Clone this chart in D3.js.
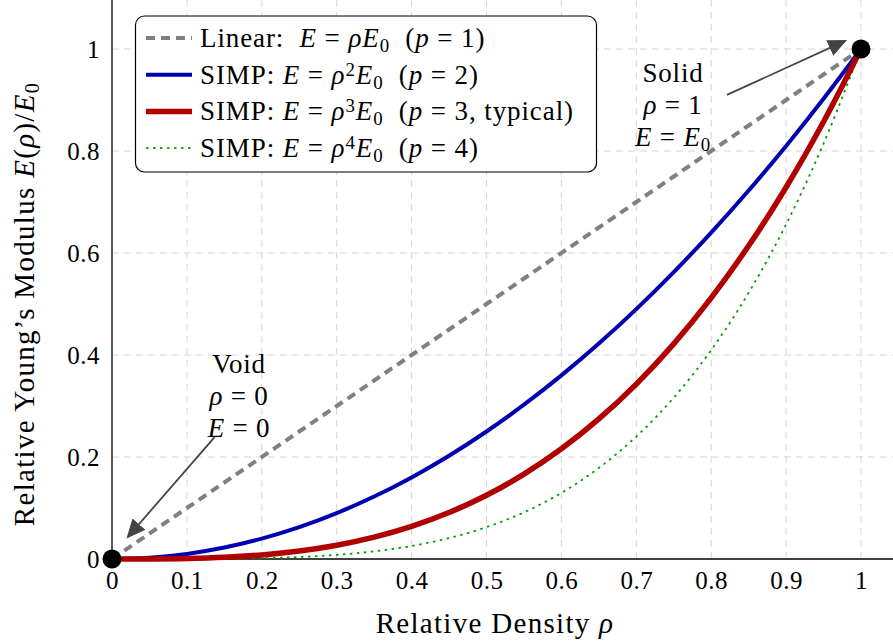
<!DOCTYPE html>
<html>
<head>
<meta charset="utf-8">
<script src="https://cdn.jsdelivr.net/npm/d3@7"></script>
<style>
  body { margin: 0; background: #fff; }
  svg { display: block; font-family: "Liberation Serif", "DejaVu Serif", serif; }
</style>
</head>
<body>
<script>
// values
var rho = [0, 0.05, 0.1, 0.15, 0.2, 0.25, 0.3, 0.35, 0.4, 0.45, 0.5, 0.55, 0.6, 0.65, 0.7, 0.75, 0.8, 0.85, 0.9, 0.95, 1];
var linearE = [0, 0.05, 0.1, 0.15, 0.2, 0.25, 0.3, 0.35, 0.4, 0.45, 0.5, 0.55, 0.6, 0.65, 0.7, 0.75, 0.8, 0.85, 0.9, 0.95, 1];
var simp2 = [0, 0.0025, 0.01, 0.0225, 0.04, 0.0625, 0.09, 0.1225, 0.16, 0.2025, 0.25, 0.3025, 0.36, 0.4225, 0.49, 0.5625, 0.64, 0.7225, 0.81, 0.9025, 1];
var simp3 = [0, 0.0001, 0.001, 0.0034, 0.008, 0.0156, 0.027, 0.0429, 0.064, 0.0911, 0.125, 0.1664, 0.216, 0.2746, 0.343, 0.4219, 0.512, 0.6141, 0.729, 0.8574, 1];
var simp4 = [0, 0, 0.0001, 0.0005, 0.0016, 0.0039, 0.0081, 0.015, 0.0256, 0.041, 0.0625, 0.0915, 0.1296, 0.1785, 0.2401, 0.3164, 0.4096, 0.522, 0.6561, 0.8145, 1];
var xTicks = [0, 0.1, 0.2, 0.3, 0.4, 0.5, 0.6, 0.7, 0.8, 0.9, 1];
var yTicks = [0, 0.2, 0.4, 0.6, 0.8, 1];
var endPoints = [[0, 0], [1, 1]];

var W = 893, H = 644;
var svg = d3.select("body").append("svg").attr("width", W).attr("height", H);

var x = d3.scaleLinear().domain([0, 1]).range([112, 861]);
var y = d3.scaleLinear().domain([0, 1]).range([559, 49]);
var xMax = x.invert(W), yMax = y.invert(0);

// grid
var grid = svg.append("g").attr("stroke", "#d6d6d6").attr("stroke-width", 1).attr("stroke-dasharray", "7,5");
grid.selectAll(".gx").data(xTicks.slice(1)).enter().append("line")
    .attr("x1", function(d){ return x(d); }).attr("x2", function(d){ return x(d); })
    .attr("y1", y(0)).attr("y2", y(yMax));
grid.selectAll(".gy").data(yTicks.slice(1)).enter().append("line")
    .attr("y1", function(d){ return y(d); }).attr("y2", function(d){ return y(d); })
    .attr("x1", x(0)).attr("x2", x(xMax));

// axes
var fmt = function(d){ return d === 0 || d === 1 ? d3.format("d")(d) : d3.format(".1f")(d); };
var xAxis = svg.append("g").attr("transform", "translate(0," + y(0) + ")")
    .call(d3.axisBottom(x).tickValues(xTicks).tickSize(0).tickPadding(12).tickFormat(fmt));
var yAxis = svg.append("g").attr("transform", "translate(" + x(0) + ",0)")
    .call(d3.axisLeft(y).tickValues(yTicks).tickSize(0).tickPadding(12).tickFormat(fmt));
[xAxis, yAxis].forEach(function(a){
    a.select(".domain").remove();
    a.attr("font-family", null).attr("font-size", null);
    a.selectAll("text").attr("font-size", 25).attr("letter-spacing", 0.5).attr("fill", "#000");
});
svg.append("line").attr("x1", x(0)).attr("x2", x(xMax)).attr("y1", y(0)).attr("y2", y(0)).attr("stroke", "#000").attr("stroke-width", 1.3);
svg.append("line").attr("x1", x(0)).attr("x2", x(0)).attr("y1", y(0)).attr("y2", y(yMax)).attr("stroke", "#000").attr("stroke-width", 1.3);

// rich text helper: parts = [[text, style]] style: i italic, sub, sup
function rich(sel, parts) {
    parts.forEach(function(p){
        var t = sel.append("tspan").text(p[0]);
        if (p[1] && p[1].indexOf("i") >= 0) t.attr("font-style", "italic");
        if (p[1] && p[1].indexOf("sub") >= 0) t.attr("baseline-shift", "-25%").attr("font-size", "70%");
        if (p[1] && p[1].indexOf("sup") >= 0) t.attr("baseline-shift", "40%").attr("font-size", "70%");
    });
    return sel;
}

// axis labels
rich(svg.append("text").attr("x", 495).attr("y", 633).attr("text-anchor", "middle")
        .attr("font-size", 29).attr("letter-spacing", 1.3),
    [["Relative Density "], ["ρ", "i"]]);
rich(svg.append("text").attr("transform", "translate(34,304) rotate(-90)").attr("text-anchor", "middle")
        .attr("font-size", 29).attr("letter-spacing", 1.3),
    [["Relative Young’s Modulus "], ["E", "i"], ["("], ["ρ", "i"], [")/"], ["E", "i"], ["0", "sub"]]);

// curves
var line = d3.line().x(function(d){ return x(d[0]); }).y(function(d){ return y(d[1]); }).curve(d3.curveCatmullRom);
var series = [
    { vals: linearE, color: "#808080", width: 4, dash: "9,6" },
    { vals: simp2, color: "#0000b0", width: 4, dash: null },
    { vals: simp4, color: "#00a000", width: 1.8, dash: "2.5,4.5" },
    { vals: simp3, color: "#b00000", width: 5.5, dash: null }
];
svg.selectAll(".curve").data(series).enter().append("path")
    .attr("d", function(s){ return line(rho.map(function(r, i){ return [r, s.vals[i]]; })); })
    .attr("fill", "none")
    .attr("stroke", function(s){ return s.color; })
    .attr("stroke-width", function(s){ return s.width; })
    .attr("stroke-dasharray", function(s){ return s.dash; });

// end points
svg.selectAll(".pt").data(endPoints).enter().append("circle")
    .attr("cx", function(d){ return x(d[0]); }).attr("cy", function(d){ return y(d[1]); })
    .attr("r", 9.5).attr("fill", "#000");

// annotations
svg.append("defs").append("marker").attr("id", "arr").attr("viewBox", "0 0 10 10")
    .attr("refX", 9).attr("refY", 5).attr("markerWidth", 19).attr("markerHeight", 19)
    .attr("markerUnits", "userSpaceOnUse").attr("orient", "auto")
    .append("path").attr("d", "M0,0.5 L10,5 L0,9.5 z").attr("fill", "#444");

function note(cx, cy, lines, from, to) {
    var g = svg.append("g").attr("font-size", 27).attr("letter-spacing", 0.8).attr("text-anchor", "middle");
    lines.forEach(function(l, i){
        rich(g.append("text").attr("x", cx).attr("y", cy + i * 32), l);
    });
    svg.append("line").attr("x1", from[0]).attr("y1", from[1]).attr("x2", to[0]).attr("y2", to[1])
        .attr("stroke", "#444").attr("stroke-width", 1.8).attr("marker-end", "url(#arr)");
}
note(239, 373, [[["Void"]], [["ρ", "i"], [" = 0"]], [["E", "i"], [" = 0"]]],
    [x(0.137), y(0.239)], [x(0.021), y(0.043)]);
note(673, 82, [[["Solid"]], [["ρ", "i"], [" = 1"]], [["E", "i"], [" = "], ["E", "i"], ["0", "sub"]]],
    [x(0.821), y(0.910)], [x(0.979), y(1.016)]);

// legend
var legend = svg.append("g");
legend.append("rect").attr("x", 135.5).attr("y", 16).attr("width", 461).attr("height", 156)
    .attr("rx", 9).attr("fill", "#fff").attr("stroke", "#000").attr("stroke-width", 1.2);
var legItems = [
    { s: series[0], parts: [["Linear:  "], ["E", "i"], [" = "], ["ρE", "i"], ["0", "sub"], ["  ("], ["p", "i"], [" = 1)"]] },
    { s: series[1], parts: [["SIMP: "], ["E", "i"], [" = "], ["ρ", "i"], ["2", "sup"], ["E", "i"], ["0", "sub"], ["  ("], ["p", "i"], [" = 2)"]] },
    { s: series[3], parts: [["SIMP: "], ["E", "i"], [" = "], ["ρ", "i"], ["3", "sup"], ["E", "i"], ["0", "sub"], ["  ("], ["p", "i"], [" = 3, typical)"]] },
    { s: series[2], parts: [["SIMP: "], ["E", "i"], [" = "], ["ρ", "i"], ["4", "sup"], ["E", "i"], ["0", "sub"], ["  ("], ["p", "i"], [" = 4)"]] }
];
legItems.forEach(function(it, i){
    var cy = 38 + i * 36.7;
    legend.append("line").attr("x1", 146).attr("x2", 192).attr("y1", cy).attr("y2", cy)
        .attr("stroke", it.s.color).attr("stroke-width", it.s.width).attr("stroke-dasharray", it.s.dash);
    rich(legend.append("text").attr("x", 200).attr("y", cy + 9).attr("font-size", 27)
        .attr("letter-spacing", 0.9).style("white-space", "pre"), it.parts);
});
</script>
</body>
</html>
